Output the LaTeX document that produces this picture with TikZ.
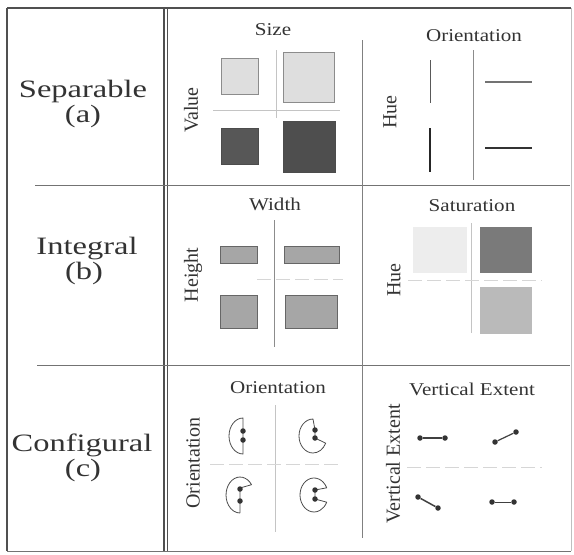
\documentclass[tikz,border=0pt]{standalone}
\usepackage{fontspec}
\usetikzlibrary{calc}
\setmainfont{Liberation Serif}
\newfontfamily\widefont[FakeStretch=1.17]{Liberation Serif}
\newfontfamily\widerfont[FakeStretch=1.3]{Liberation Serif}
\definecolor{txt}{HTML}{333333}
\definecolor{framec}{HTML}{505050}
\definecolor{gridc}{HTML}{C4C4C4}
\definecolor{lightsq}{HTML}{DEDEDE}
\definecolor{darksq}{HTML}{575757}
\definecolor{midsq}{HTML}{A6A6A6}
\begin{document}
\begin{tikzpicture}[x=1pt,y=1pt,
  title/.style={font=\widefont\fontsize{18}{18}\selectfont, text=txt, anchor=base, inner sep=0},
  vlabel/.style={font=\fontsize{20}{20}\selectfont, text=txt, rotate=90, inner sep=0},
  rowlabel/.style={font=\widerfont\fontsize{25}{25}\selectfont, text=txt, anchor=base, inner sep=0},
  frame/.style={draw=framec, line width=1.1pt},
  sep/.style={draw=black!55, line width=0.8pt},
  axis/.style={draw=gridc, line width=0.6pt},
  faxis/.style={draw=gridc!70, line width=0.6pt, dash pattern=on 14pt off 5pt},
  glyph/.style={draw=black!70, line width=0.8pt, line join=round},
  dot/.style={circle, fill=black!80, inner sep=0, minimum size=5.5pt},
  bar/.style={draw=black!75, line width=1.8pt},
]
\useasboundingbox (0,0) rectangle (574,-555);

% ---- frame ----
\draw[frame] (7,-8) -- (571,-8);
\draw[frame] (7,-8) -- (7,-551);
\draw[sep] (7,-551) -- (571,-551);
\draw[draw=black!25, line width=0.6pt] (571,-8) -- (571,-551);
\draw[frame] (164,-8) -- (164,-551);
\draw[frame] (167.5,-8) -- (167.5,-551);
\draw[sep] (35,-185) -- (570,-185);
\draw[sep] (37,-365) -- (570,-365);
\draw[draw=black!50, line width=0.8pt] (362,-40) -- (362,-538);

% ---- row labels ----
\node[rowlabel] (sepname) at (83,-97) {Separable};
\node[rowlabel] (sepa) at (83,-122) {(a)};
\node[rowlabel] (intname) at (87,-254) {Integral};
\node[rowlabel] (intb) at (84,-279) {(b)};
\node[rowlabel] (confname) at (82,-451) {Configural};
\node[rowlabel] (confc) at (83,-476) {(c)};

% ---- cell (a,1): Size / Value ----
\node[title] (tsize) at (273,-35) {Size};
\node[vlabel] (lvalue) at (191,-110) {Value};
\draw[axis] (213,-110) -- (340,-110);
\draw[axis] (276,-50) -- (276,-118);
\draw[draw=black!45, fill=lightsq, line width=0.7pt] (221,-58) rectangle (258,-94);
\draw[draw=black!45, fill=lightsq, line width=0.7pt] (283,-52) rectangle (334,-102);
\draw[draw=black!70, fill=darksq, line width=0.7pt] (221,-128) rectangle (258,-164);
\draw[draw=black!70, fill=darksq!90!black, line width=0.7pt] (283,-121) rectangle (335,-172);

% ---- cell (a,2): Orientation / Hue ----
\node[title] (tori1) at (474,-41) {Orientation};
\node[vlabel] (lhue1) at (390,-112) {Hue};
\draw[draw=black!45, line width=0.7pt] (473,-50) -- (473,-180);
\draw[draw=black!65, line width=1pt] (430,-60) -- (430,-103);
\draw[draw=black!85, line width=1.6pt] (430,-128) -- (430,-172);
\draw[draw=black!55, line width=1.3pt] (485,-82) -- (532,-82);
\draw[draw=black!80, line width=1.1pt] (485,-148) -- (532,-148);

% ---- cell (b,1): Width / Height ----
\node[title] (twidth) at (275,-210) {Width};
\node[vlabel] (lheight) at (193,-275) {Height};
\draw[draw=black!45, line width=0.6pt] (274,-220) -- (274,-347);
\draw[faxis] (257,-279) -- (343,-279);
\draw[draw=black!60, fill=midsq, line width=0.7pt] (220,-246) rectangle (257,-263);
\draw[draw=black!60, fill=midsq, line width=0.7pt] (284,-246) rectangle (339,-263);
\draw[draw=black!60, fill=midsq, line width=0.7pt] (220,-295) rectangle (257,-328);
\draw[draw=black!60, fill=midsq, line width=0.7pt] (285,-295) rectangle (337,-328);

% ---- cell (b,2): Saturation / Hue ----
\node[title] (tsat) at (472,-211) {Saturation};
\node[vlabel] (lhue2) at (394,-280) {Hue};
\draw[axis] (471,-223) -- (471,-333);
\draw[faxis] (408,-280) -- (542,-280);
\fill[black!7] (413,-227) rectangle (467,-273);
\fill[black!52] (480,-227) rectangle (532,-273);
\fill[black!27] (480,-287) rectangle (532,-334);

% ---- cell (c,1): Orientation / Orientation ----
\node[title] (tori2) at (278,-393) {Orientation};
\node[vlabel] (lori) at (193,-463) {Orientation};
\draw[axis] (275,-405) -- (275,-532);
\draw[faxis] (210,-464) -- (343,-464);
% top-left glyph
\draw[glyph] (243,-418) arc[start angle=90, end angle=270, x radius=14, y radius=18] -- cycle;
\node[dot] (g1a) at (243,-431) {};
\node[dot] (g1b) at (243,-440) {};
% top-right glyph
\draw[glyph] (313,-419) arc[start angle=90, end angle=335, x radius=14, y radius=17]
  -- (315,-438) -- (315,-430) -- cycle;
\node[dot] (g2a) at (315,-430) {};
\node[dot] (g2b) at (315,-438) {};
% bottom-left glyph
\draw[glyph] (240,-513) -- (240,-502) -- (240,-488) -- (251.5,-484.7)
  arc[start angle=35, end angle=270, x radius=14, y radius=18];
\node[dot] (g3a) at (240,-489) {};
\node[dot] (g3b) at (240,-501) {};
% bottom-right glyph
\draw[glyph] (326.7,-487.8) arc[start angle=25, end angle=335, x radius=14, y radius=17]
  -- (315,-499) -- (315,-490) -- cycle;
\node[dot] (g4a) at (315,-490) {};
\node[dot] (g4b) at (315,-499) {};

% ---- cell (c,2): Vertical Extent ----
\node[title] (tvext) at (472,-395) {Vertical Extent};
\node[vlabel] (lvext) at (393,-464) {Vertical Extent};
\draw[faxis] (407,-467) -- (542,-467);
\node[dot] (d1a) at (420,-438) {};
\node[dot] (d1b) at (445,-438) {};
\draw[bar] (d1a) -- (d1b);
\node[dot] (d2a) at (495,-442) {};
\node[dot] (d2b) at (516,-432) {};
\draw[bar, line width=1.2pt] (d2a) -- (d2b);
\node[dot] (d3a) at (418,-497) {};
\node[dot] (d3b) at (438,-508) {};
\draw[bar, line width=1.5pt] (d3a) -- (d3b);
\node[dot] (d4a) at (492,-502) {};
\node[dot] (d4b) at (514,-502) {};
\draw[bar, line width=0.9pt] (d4a) -- (d4b);
\end{tikzpicture}
\end{document}
